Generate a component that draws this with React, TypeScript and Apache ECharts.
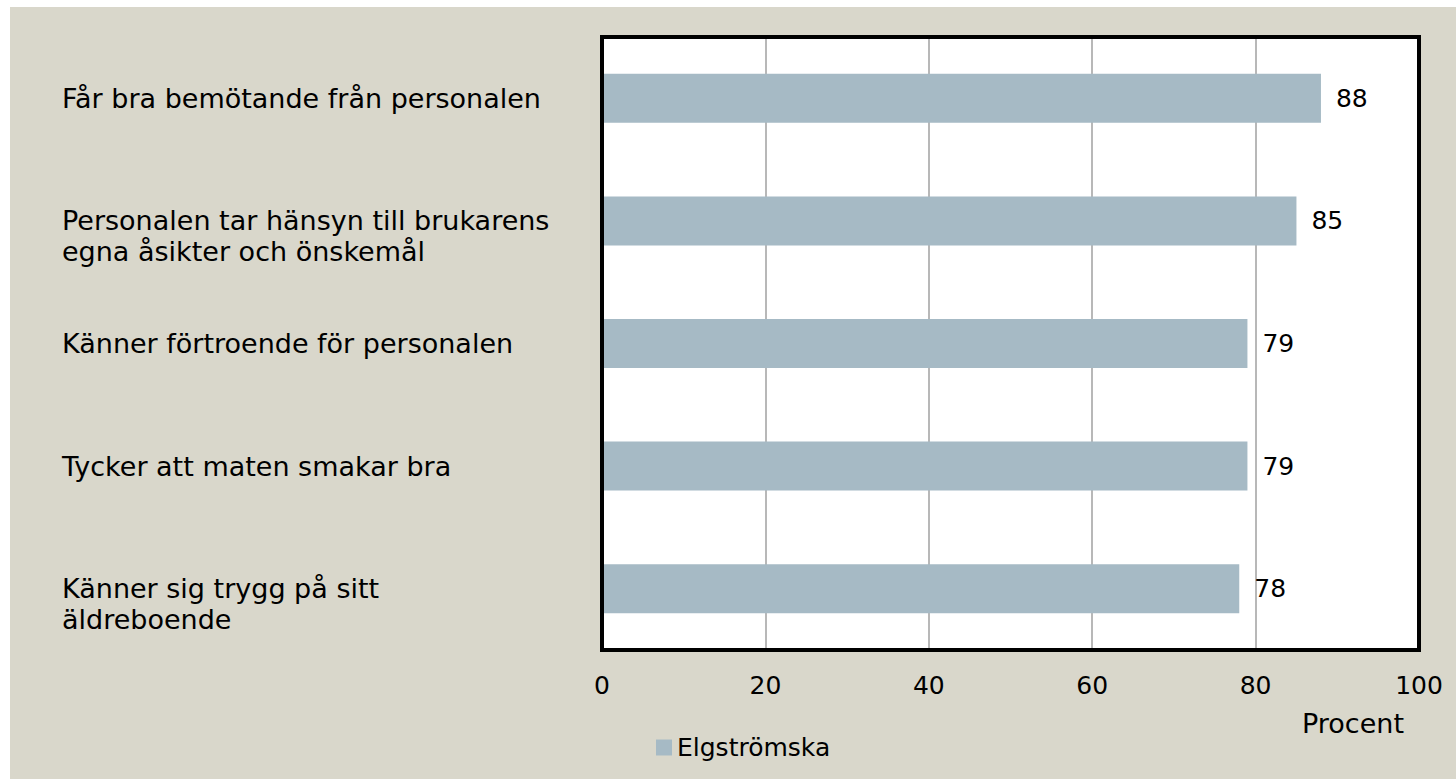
import React, { useEffect, useRef } from "react";
import * as echarts from "echarts";

const categories = [
  "Får bra bemötande från personalen",
  "Personalen tar hänsyn till brukarens\negna åsikter och önskemål",
  "Känner förtroende för personalen",
  "Tycker att maten smakar bra",
  "Känner sig trygg på sitt\näldreboende",
];
const values = [88, 85, 79, 79, 78];
const seriesName = "Elgströmska";
const axisName = "Procent";

const FONT = "'DejaVu Sans', sans-serif";
const FS = 25;
const FS_CAT = 27;

const GRID = { left: 592, top: 30, width: 817, height: 613 };

export default function App() {
  const ref = useRef<HTMLDivElement>(null);
  useEffect(() => {
    if (!ref.current) return;
    const chart = echarts.init(ref.current, undefined, { renderer: "svg" });
    chart.setOption({
      animation: false,
      backgroundColor: "#D9D7CB",
      textStyle: { fontFamily: FONT },
      grid: {
        left: GRID.left,
        top: GRID.top,
        width: GRID.width,
        height: GRID.height,
        show: true,
        backgroundColor: "#FFFFFF",
        borderColor: "#000000",
        borderWidth: 0,
        containLabel: false,
      },
      graphic: [
        {
          type: "rect",
          z: 100,
          silent: true,
          shape: { x: GRID.left, y: GRID.top, width: GRID.width, height: GRID.height },
          style: { fill: "none", stroke: "#000000", lineWidth: 4 },
        },
      ],
      legend: {
        data: [seriesName],
        left: 641,
        top: 723,
        itemWidth: 16,
        itemHeight: 16,
        itemGap: 8,
        icon: "rect",
        textStyle: { fontSize: FS, color: "#000", fontFamily: FONT },
      },
      xAxis: {
        type: "value",
        min: 0,
        max: 100,
        interval: 20,
        name: axisName,
        nameLocation: "end",
        nameGap: -15,
        nameTextStyle: {
          fontSize: FS_CAT,
          color: "#000",
          align: "right",
          verticalAlign: "top",
          padding: [60, 0, 0, 0],
          fontFamily: FONT,
        },
        axisLine: { show: false },
        axisTick: { show: false },
        axisLabel: { fontSize: FS, color: "#000", margin: 23, fontFamily: FONT },
        splitLine: { show: true, lineStyle: { color: "#A0A0A0", width: 1.5 } },
      },
      yAxis: {
        type: "category",
        data: categories,
        inverse: true,
        axisLine: { show: false },
        axisTick: { show: false },
        splitLine: { show: false },
        axisLabel: {
          align: "left",
          margin: 540,
          fontSize: FS_CAT,
          lineHeight: 31,
          color: "#000",
          fontFamily: FONT,
          formatter: (v: string) => (v.includes("\n") ? "\n" + v : v),
        },
      },
      series: [
        {
          name: seriesName,
          type: "bar",
          data: values,
          barWidth: 49,
          itemStyle: { color: "#A6BAC5" },
          label: {
            show: true,
            position: "right",
            distance: 15,
            fontSize: FS,
            color: "#000",
            fontFamily: FONT,
          },
        },
      ],
    });
    return () => chart.dispose();
  }, []);
  return (
    <div
      ref={ref}
      style={{ position: "fixed", left: 10, top: 7, width: 1446, height: 772 }}
    />
  );
}
